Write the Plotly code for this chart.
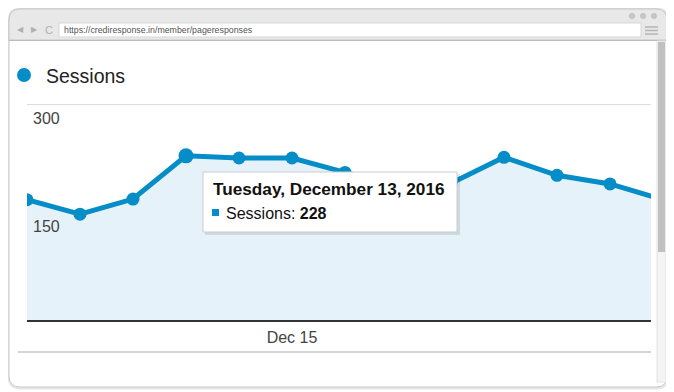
import plotly.graph_objects as go
from datetime import datetime, timedelta

# ---------------- data ----------------
dates = ["2016-12-10", "2016-12-11", "2016-12-12", "2016-12-13", "2016-12-14",
         "2016-12-15", "2016-12-16", "2016-12-17", "2016-12-18", "2016-12-19",
         "2016-12-20", "2016-12-21", "2016-12-22"]
sessions = [167, 147, 168, 228, 225, 225, 205, 186, 190, 226, 201, 189, 167]
y_tick_values = [150, 300]
y_tick_labels = ["150", "300"]
x_tick_values = ["2016-12-15"]
x_tick_labels = ["Dec 15"]
series_name = "Sessions"
tooltip_title = "Tuesday, December 13, 2016"
tooltip_index = 3

OFF = 8  # page body margin
W, H = 674 - OFF, 392 - OFF
BLUE = "#058dc7"
FONT = "Liberation Sans, Arial, sans-serif"


def px(x):
    return (x - OFF) / W


def py(y):
    return 1 - (y - OFF) / H


start = datetime(2016, 12, 10)
x_end = start + timedelta(days=(651 - 27) / 53.0)

fig = go.Figure()
fig.add_trace(go.Scatter(
    x=dates, y=sessions, mode="lines+markers", name=series_name,
    line=dict(color=BLUE, width=5), marker=dict(color=BLUE, size=13),
    fill="tozeroy", fillcolor="#e6f2f9", hoverinfo="skip", showlegend=False,
))
# highlighted (hovered) point
fig.add_trace(go.Scatter(
    x=[dates[tooltip_index]], y=[sessions[tooltip_index]], mode="markers",
    marker=dict(color=BLUE, size=15), hoverinfo="skip", showlegend=False,
))

shapes = []
annotations = []


def rounded_path(x0, y0, x1, y1, r, top_only=False):
    X0, X1 = px(x0), px(x1)
    rx, ry = r / W, r / H
    Y0, Y1 = py(y0), py(y1)
    if top_only:
        return (f"M {X0} {Y1} L {X0} {Y0 - ry} Q {X0} {Y0} {X0 + rx} {Y0} "
                f"L {X1 - rx} {Y0} Q {X1} {Y0} {X1} {Y0 - ry} L {X1} {Y1} Z")
    return (f"M {X0} {Y1 + ry} L {X0} {Y0 - ry} Q {X0} {Y0} {X0 + rx} {Y0} "
            f"L {X1 - rx} {Y0} Q {X1} {Y0} {X1} {Y0 - ry} L {X1} {Y1 + ry} "
            f"Q {X1} {Y1} {X1 - rx} {Y1} L {X0 + rx} {Y1} Q {X0} {Y1} {X0} {Y1 + ry} Z")


# browser frame shadow / border
shapes.append(dict(type="path", xref="paper", yref="paper",
                   path=rounded_path(9, 9, 668, 388, 12),
                   line=dict(color="#e6e6e6", width=3), fillcolor="rgba(0,0,0,0)", layer="below"))
shapes.append(dict(type="path", xref="paper", yref="paper",
                   path=rounded_path(9, 9, 667, 387, 11),
                   line=dict(color="#c9c9c9", width=1), fillcolor="white", layer="below"))
# top bar
shapes.append(dict(type="path", xref="paper", yref="paper",
                   path=rounded_path(9, 9, 667, 40, 11, top_only=True),
                   line=dict(color="#c9c9c9", width=1), fillcolor="#e8e8e8", layer="below"))
shapes.append(dict(type="line", xref="paper", yref="paper", x0=px(9), x1=px(667), y0=py(40.5), y1=py(40.5),
                   line=dict(color="#bdbdbd", width=1), layer="below"))
# address field
shapes.append(dict(type="rect", xref="paper", yref="paper", x0=px(59), x1=px(641), y0=py(23), y1=py(37),
                   line=dict(color="#d8d8d8", width=1), fillcolor="white", layer="below"))
annotations.append(dict(x=px(62), y=py(30), xref="paper", yref="paper", xanchor="left", yanchor="middle",
                        text="https://crediresponse.in/member/pageresponses", showarrow=False,
                        font=dict(family=FONT, size=8.8, color="#555555")))
# nav icons
annotations.append(dict(x=px(20), y=py(30), xref="paper", yref="paper", xanchor="center", yanchor="middle",
                        text="◀", showarrow=False, font=dict(family="DejaVu Sans", size=8, color="#b0b0b0")))
annotations.append(dict(x=px(34), y=py(30), xref="paper", yref="paper", xanchor="center", yanchor="middle",
                        text="▶", showarrow=False, font=dict(family="DejaVu Sans", size=8, color="#b0b0b0")))
annotations.append(dict(x=px(49), y=py(30), xref="paper", yref="paper", xanchor="center", yanchor="middle",
                        text="C", showarrow=False, font=dict(family=FONT, size=11, color="#b0b0b0")))
# window dots
for cx in (632, 643, 654):
    shapes.append(dict(type="circle", xref="paper", yref="paper", x0=px(cx - 3), x1=px(cx + 3),
                       y0=py(13), y1=py(19), line=dict(width=0), fillcolor="#c4c4c4", layer="below"))
# hamburger
for hy in (27, 30.5, 34):
    shapes.append(dict(type="line", xref="paper", yref="paper", x0=px(645), x1=px(658), y0=py(hy), y1=py(hy),
                       line=dict(color="#b5b5b5", width=1.5), layer="below"))
# scrollbar
shapes.append(dict(type="rect", xref="paper", yref="paper", x0=px(657), x1=px(666), y0=py(41), y1=py(382),
                   line=dict(color="#e2e2e2", width=1), fillcolor="#f4f4f4", layer="below"))
shapes.append(dict(type="rect", xref="paper", yref="paper", x0=px(658), x1=px(665), y0=py(42), y1=py(252),
                   line=dict(width=0), fillcolor="#c1c1c1", layer="below"))

# legend
shapes.append(dict(type="circle", xref="paper", yref="paper", x0=px(17), x1=px(31), y0=py(68), y1=py(82),
                   line=dict(width=0), fillcolor=BLUE))
annotations.append(dict(x=px(44), y=py(76), xref="paper", yref="paper", xanchor="left", yanchor="middle",
                        text=series_name, showarrow=False, font=dict(family=FONT, size=19.5, color="#222222")))

# bottom separator
shapes.append(dict(type="line", xref="paper", yref="paper", x0=px(18), x1=px(651), y0=py(352), y1=py(352),
                   line=dict(color="#d4d4d4", width=2)))

# y tick labels inside plot
for v, t in zip(y_tick_values, y_tick_labels):
    annotations.append(dict(x=px(31), y=v, xref="paper", yref="y", xanchor="left", yanchor="middle",
                            yshift=-14, text=t, showarrow=False,
                            font=dict(family=FONT, size=16, color="#444444")))

# tooltip
shapes.append(dict(type="rect", xref="paper", yref="paper", x0=px(205), x1=px(460), y0=py(174), y1=py(235),
                   line=dict(width=0), fillcolor="rgba(0,0,0,0.10)", layer="above"))
shapes.append(dict(type="rect", xref="paper", yref="paper", x0=px(203), x1=px(457), y0=py(172), y1=py(232),
                   line=dict(color="#cccccc", width=1), fillcolor="white", layer="above"))
shapes.append(dict(type="rect", xref="paper", yref="paper", x0=px(212), x1=px(219), y0=py(209), y1=py(216),
                   line=dict(width=0), fillcolor=BLUE, layer="above"))
annotations.append(dict(x=px(211), y=py(189), xref="paper", yref="paper", xanchor="left", yanchor="middle",
                        text=f"<b>{tooltip_title}</b>", showarrow=False,
                        font=dict(family=FONT, size=17.2, color="#111111")))
annotations.append(dict(x=px(224), y=py(213), xref="paper", yref="paper", xanchor="left", yanchor="middle",
                        text=f"{series_name}: <b>{sessions[tooltip_index]}</b>", showarrow=False,
                        font=dict(family=FONT, size=16, color="#111111")))

fig.update_layout(
    width=W, height=H, margin=dict(l=0, r=0, t=0, b=0),
    paper_bgcolor="white", plot_bgcolor="rgba(0,0,0,0)",
    shapes=shapes, annotations=annotations, showlegend=False,
    xaxis=dict(domain=[px(27), px(651)], type="date",
               range=[start.strftime("%Y-%m-%d"), x_end.strftime("%Y-%m-%d %H:%M:%S")],
               tickvals=x_tick_values, ticktext=x_tick_labels, showgrid=False, zeroline=False,
               showline=True, linecolor="#333333", linewidth=2, ticks="",
               tickfont=dict(family=FONT, size=16, color="#444444"), ticklabelstandoff=2),
    yaxis=dict(domain=[py(320), py(103)], range=[0, 301.4], tickvals=y_tick_values,
               showticklabels=False, showgrid=True, gridcolor="#dcdcdc", gridwidth=1,
               zeroline=False, showline=False, fixedrange=True),
)

fig.write_html("out.html")
